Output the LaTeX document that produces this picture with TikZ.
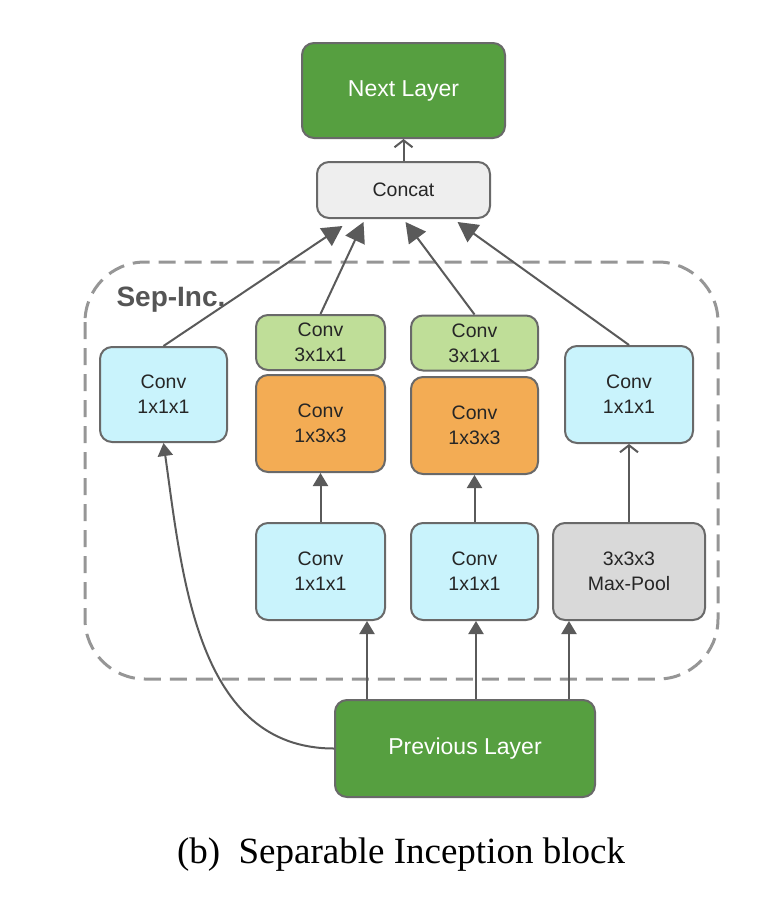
\documentclass[tikz,border=0pt]{standalone}
\usepackage{fontspec}
\setmainfont{Liberation Serif}
\newfontfamily\sansfont{Liberation Sans}
\usetikzlibrary{arrows.meta}
\usetikzlibrary{positioning}

\definecolor{layergreen}{RGB}{86,159,64}
\definecolor{convcyan}{RGB}{201,243,252}
\definecolor{convgreen}{RGB}{191,222,152}
\definecolor{convorange}{RGB}{243,172,84}
\definecolor{poolgray}{RGB}{217,217,217}
\definecolor{concatgray}{RGB}{238,238,238}
\definecolor{edgegray}{RGB}{105,105,105}
\definecolor{arrowgray}{RGB}{90,90,90}
\definecolor{dashgray}{RGB}{150,150,150}
\definecolor{labelgray}{RGB}{85,85,85}

\tikzstyle{block}=[rectangle, draw=edgegray, line width=2pt, rounded corners=12pt, align=center, text=black!85, font=\sansfont\fontsize{19.5}{25}\selectfont, minimum width=127pt, minimum height=95pt, inner sep=0pt]
\tikzstyle{flatblock}=[block, minimum height=55pt]
\tikzstyle{layer}=[block, fill=layergreen, text=white, minimum height=95pt, font=\sansfont\fontsize{23}{28}\selectfont]
\tikzstyle{arrow}=[-{Triangle[length=13pt,width=15pt]}, arrowgray, line width=2pt]
\tikzstyle{bigarrow}=[-{Triangle[length=20pt,width=21pt]}, arrowgray, line width=2pt]
\tikzstyle{openarrow}=[-{Straight Barb[length=7pt,width=18pt]}, arrowgray, line width=2pt]

\begin{document}
\begin{tikzpicture}[x=1pt, y=-1pt]
        \useasboundingbox (0,0) rectangle (770,902);
        % dashed frame of the block
        \draw[dashgray, line width=3pt, dash pattern=on 17pt off 9pt, rounded corners=60pt] (85,262) rectangle (718,679);
        \node[anchor=west, text=labelgray, font=\sansfont\bfseries\fontsize{28}{32}\selectfont] at (113,300) (sepinc) {Sep-Inc.};

        \node[layer, minimum width=203pt] at (403.5,90.5) (nextlayer) {Next Layer};
        \node[block, fill=concatgray, minimum width=173pt, minimum height=56pt] at (403.5,190) (concat) {Concat};
        \node[layer, minimum width=260pt, minimum height=97pt] at (465,748.5) (prevlayer) {Previous Layer};

        \node[block, fill=convcyan] at (163.5,394.5) (conva) {Conv\\1x1x1};
        \node[flatblock, fill=convgreen, minimum width=129pt] at (320.5,342.5) (greena) {Conv\\3x1x1};
        \node[block, fill=convorange, minimum width=129pt, minimum height=97pt] at (320.5,423.5) (orangea) {Conv\\1x3x3};
        \node[block, fill=convcyan, minimum width=129pt, minimum height=97pt] at (320.5,571.5) (cyana) {Conv\\1x1x1};
        \node[flatblock, fill=convgreen] at (474.5,343) (greenb) {Conv\\3x1x1};
        \node[block, fill=convorange, minimum height=97pt] at (474.5,425.5) (orangeb) {Conv\\1x3x3};
        \node[block, fill=convcyan, minimum height=97pt] at (474.5,571.5) (cyanb) {Conv\\1x1x1};
        \node[block, fill=convcyan, minimum width=128pt, minimum height=97pt] at (629,394.5) (convd) {Conv\\1x1x1};
        \node[block, fill=poolgray, minimum width=152pt, minimum height=97pt] at (629,571.5) (maxpool) {3x3x3\\Max-Pool};

        \node at (401,855) (caption) {\fontsize{37}{42}\selectfont (b)~~Separable Inception block};

        % into concat and up
        \draw[openarrow] (concat.north) -- (nextlayer.south);
        \draw[bigarrow] (conva.north) -- ([xshift=-61pt,yshift=-7pt]concat.south);
        \draw[bigarrow] (greena.north) -- ([xshift=-40pt,yshift=-3pt]concat.south);
        \draw[bigarrow] (greenb.north) -- ([xshift=2pt,yshift=-3pt]concat.south);
        \draw[bigarrow] (convd.north) -- ([xshift=54pt,yshift=-3pt]concat.south);

        % inside the branches
        \draw[arrow] (cyana.north) -- (orangea.south);
        \draw[arrow] (cyanb.north) -- (orangeb.south);
        \draw[openarrow] (maxpool.north) -- (convd.south);

        % from previous layer
        \coordinate (pa) at ([xshift=-98pt]prevlayer.north);
        \coordinate (pb) at ([xshift=11pt]prevlayer.north);
        \coordinate (pc) at ([xshift=104pt]prevlayer.north);
        \draw[arrow] (pa) -- (pa |- cyana.south);
        \draw[arrow] (pb) -- (pb |- cyanb.south);
        \draw[arrow] (pc) -- (pc |- maxpool.south);
        \draw[arrow] (prevlayer.west) to[out=180, in=-82] (conva.south);
      \end{tikzpicture}
\end{document}
